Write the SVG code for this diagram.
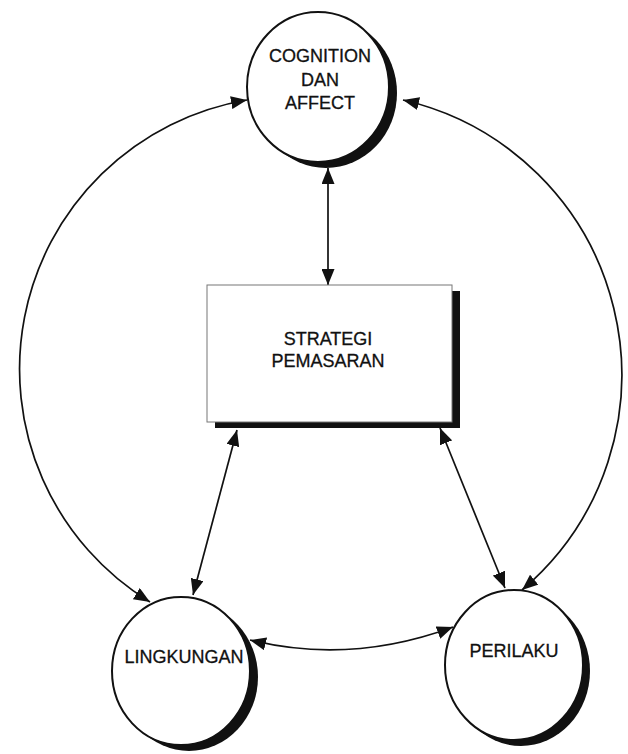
<svg xmlns="http://www.w3.org/2000/svg" width="628" height="754" viewBox="0 0 628 754">
<defs>
<marker id="ah" markerUnits="userSpaceOnUse" markerWidth="17" markerHeight="13" refX="16" refY="6.5" orient="auto-start-reverse">
<path d="M0,0 L16,6.5 L0,13 z" fill="#111"/>
</marker>
<style>
.lbl{font-family:"Liberation Sans",Arial,sans-serif;font-size:18px;fill:#111;stroke:#111;stroke-width:0.3;text-anchor:middle}
.node{fill:#fff;stroke:#111;stroke-width:2}
.shadow{fill:#111}
.edge{fill:none;stroke:#111;stroke-width:1.7;marker-start:url(#ah);marker-end:url(#ah)}
</style>
</defs>
<rect width="628" height="754" fill="#fff"/>
<g id="connectors">
<path class="edge" d="M247,100 A273,273 0 0 0 150,602"/>
<path class="edge" d="M403,100 A282,282 0 0 1 522,590"/>
<path class="edge" d="M328,168 L328,285"/>
<path class="edge" d="M237,430 L193,595"/>
<path class="edge" d="M440,428 L505,588"/>
<path class="edge" d="M250,640 Q350,665 453,627"/>
</g>
<g id="cognition">
<ellipse class="shadow" cx="326" cy="93" rx="71" ry="75"/>
<ellipse class="node" cx="318" cy="87" rx="71" ry="75"/>
<text class="lbl" x="320" y="62">COGNITION</text>
<text class="lbl" x="320" y="86">DAN</text>
<text class="lbl" x="320" y="109">AFFECT</text>
</g>
<g id="strategi">
<rect class="shadow" x="215" y="291" width="245" height="137"/>
<rect x="207" y="285" width="245" height="137" fill="#fff" stroke="#777" stroke-width="1"/>
<text class="lbl" x="328" y="345">STRATEGI</text>
<text class="lbl" x="328" y="367">PEMASARAN</text>
</g>
<g id="lingkungan">
<ellipse class="shadow" cx="189" cy="677" rx="69" ry="74"/>
<ellipse class="node" cx="181" cy="671" rx="69" ry="74"/>
<text class="lbl" x="184" y="663">LINGKUNGAN</text>
</g>
<g id="perilaku">
<ellipse class="shadow" cx="521" cy="671" rx="69" ry="75"/>
<ellipse class="node" cx="514" cy="665" rx="69" ry="75"/>
<text class="lbl" x="514" y="657">PERILAKU</text>
</g>
</svg>
